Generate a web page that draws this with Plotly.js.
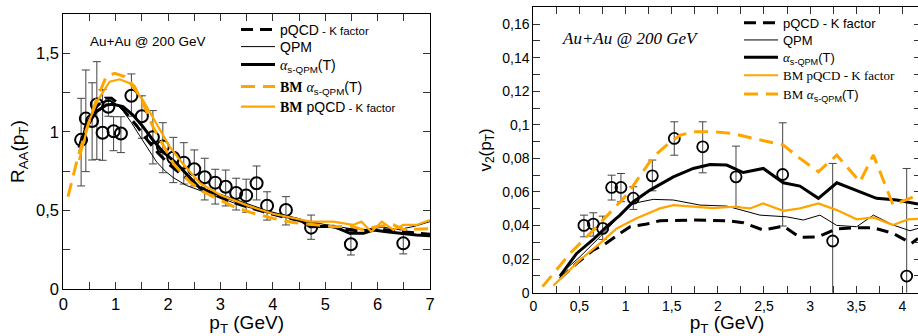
<!DOCTYPE html>
<html>
<head>
<meta charset="utf-8">
<script src="https://cdn.plot.ly/plotly-3.0.1.min.js"></script>
<style>
html,body{margin:0;padding:0;overflow:hidden;background:#fff;width:918px;height:336px;}
#chart{width:922px;height:336px;}
</style>
</head>
<body>
<div id="chart"></div>
<script>
// ---------- Left panel: R_AA(pT) ----------
const raaDataX   = [0.34, 0.43, 0.55, 0.64, 0.75, 0.86, 0.96, 1.10, 1.30, 1.50, 1.71, 1.90, 2.10, 2.30, 2.50, 2.70, 2.90, 3.10, 3.30, 3.49, 3.69, 3.89, 4.25, 4.73, 5.49, 6.49];
const raaDataY   = [0.95, 1.085, 1.07, 1.175, 0.995, 1.16, 1.005, 0.99, 1.23, 1.10, 0.966, 0.907, 0.836, 0.805, 0.763, 0.712, 0.678, 0.652, 0.612, 0.597, 0.674, 0.531, 0.504, 0.392, 0.286, 0.292];
const raaDataUp  = [1.214, 1.394, 1.313, 1.447, 1.27, 1.22, 1.097, 1.097, 1.369, 1.23, 1.136, 1.059, 0.966, 0.932, 0.886, 0.833, 0.763, 0.758, 0.706, 0.70, 0.784, 0.62, 0.589, 0.472, 0.377, 0.377];
const raaDataLo  = [0.657, 0.748, 0.822, 0.826, 0.82, 1.10, 0.881, 0.869, 1.10, 0.96, 0.797, 0.741, 0.678, 0.669, 0.657, 0.568, 0.542, 0.53, 0.504, 0.49, 0.568, 0.44, 0.409, 0.318, 0.218, 0.225];

const raaPqcdX = [0.30, 0.44, 0.63, 0.80, 0.92, 1.05, 1.20, 1.40, 1.60, 1.80, 2.00, 2.20, 2.50, 2.80, 3.10, 3.40, 3.80, 4.20, 4.60, 5.00, 5.40, 5.70, 6.00, 6.30, 6.60, 7.00];
const raaPqcdY = [0.90, 1.05, 1.16, 1.215, 1.215, 1.18, 1.12, 1.04, 0.95, 0.87, 0.80, 0.745, 0.67, 0.615, 0.57, 0.535, 0.495, 0.46, 0.43, 0.405, 0.38, 0.37, 0.385, 0.37, 0.36, 0.35];

const raaQpmX = [0.30, 0.44, 0.63, 0.80, 0.90, 1.00, 1.15, 1.30, 1.45, 1.60, 1.78, 1.95, 2.10, 2.35, 2.60, 2.90, 3.25, 3.60, 3.90, 4.30, 4.70, 5.10, 5.50, 5.80, 6.10, 6.40, 6.70, 7.00];
const raaQpmY = [0.88, 1.06, 1.17, 1.20, 1.20, 1.18, 1.13, 1.06, 0.98, 0.90, 0.81, 0.75, 0.71, 0.66, 0.63, 0.59, 0.55, 0.515, 0.49, 0.46, 0.43, 0.405, 0.385, 0.38, 0.395, 0.38, 0.40, 0.43];

const raaAlphaX = [0.31, 0.44, 0.63, 0.82, 0.95, 1.14, 1.33, 1.52, 1.71, 1.90, 2.16, 2.61, 3.25, 3.88, 4.52, 4.71, 5.16, 5.47, 5.73, 5.92, 6.17, 6.42, 6.74, 7.00];
const raaAlphaY = [0.907, 1.034, 1.129, 1.172, 1.176, 1.161, 1.108, 1.034, 0.949, 0.875, 0.80, 0.642, 0.568, 0.494, 0.441, 0.398, 0.40, 0.356, 0.356, 0.377, 0.366, 0.356, 0.345, 0.34];

const raaBmAlphaX = [0.09, 0.185, 0.28, 0.44, 0.63, 0.82, 0.98, 1.17, 1.36, 1.55, 1.71, 1.90, 2.10, 2.42, 2.67, 2.93, 3.25, 3.63, 4.01, 4.39, 4.77, 5.16, 5.50, 5.70, 6.00, 6.30, 6.50, 7.00];
const raaBmAlphaY = [0.589, 0.716, 0.843, 1.013, 1.203, 1.352, 1.373, 1.352, 1.288, 1.161, 1.034, 0.92, 0.80, 0.68, 0.621, 0.578, 0.525, 0.483, 0.451, 0.424, 0.409, 0.398, 0.40, 0.38, 0.40, 0.41, 0.38, 0.385];

const raaBmPqcdX = [0.30, 0.50, 0.66, 0.885, 1.076, 1.267, 1.52, 1.775, 2.03, 2.28, 2.61, 3.00, 3.50, 4.00, 4.40, 4.71, 5.15, 5.53, 5.69, 5.88, 6.08, 6.30, 6.49, 6.74, 7.00];
const raaBmPqcdY = [0.822, 1.076, 1.203, 1.32, 1.335, 1.31, 1.203, 1.055, 0.907, 0.80, 0.674, 0.60, 0.535, 0.48, 0.45, 0.43, 0.43, 0.409, 0.43, 0.366, 0.43, 0.377, 0.409, 0.409, 0.44];

// ---------- Right panel: v2(pT) ----------
const v2DataX  = [0.549, 0.650, 0.752, 0.849, 0.950, 1.084, 1.29, 1.528, 1.836, 2.197, 2.703, 3.245, 4.047];
const v2DataY  = [0.0401, 0.0409, 0.0383, 0.0627, 0.0627, 0.0563, 0.0696, 0.0919, 0.0869, 0.069, 0.0704, 0.0308, 0.0099];
const v2DataUp = [0.0462, 0.0476, 0.0456, 0.070, 0.071, 0.0631, 0.079, 0.1018, 0.1018, 0.0873, 0.1012, 0.077, 0.074];
const v2DataLo = [0.0333, 0.0337, 0.0317, 0.0552, 0.0542, 0.0496, 0.0607, 0.0819, 0.0714, 0.0512, 0.0397, -0.02, -0.02];

const v2PqcdX = [0.29, 0.47, 0.65, 0.76, 0.94, 1.05, 1.23, 1.373, 1.734, 2.096, 2.276, 2.493, 2.71, 2.89, 3.09, 3.29, 3.505, 3.686, 3.90, 4.10, 4.17];
const v2PqcdY = [0.0085, 0.0175, 0.0254, 0.0284, 0.0353, 0.0393, 0.0409, 0.0429, 0.0433, 0.0429, 0.0417, 0.0373, 0.0397, 0.0329, 0.0333, 0.0381, 0.0387, 0.0387, 0.0353, 0.0294, 0.0323];

const v2QpmX = [0.29, 0.506, 0.723, 0.94, 1.084, 1.30, 1.518, 1.807, 2.096, 2.457, 2.746, 2.927, 3.107, 3.288, 3.505, 3.686, 3.90, 4.083, 4.17];
const v2QpmY = [0.0110, 0.0214, 0.0333, 0.0460, 0.0532, 0.0556, 0.0552, 0.0522, 0.0516, 0.0462, 0.0452, 0.0433, 0.0462, 0.0401, 0.0393, 0.0462, 0.0403, 0.0369, 0.0383];

const v2AlphaX = [0.289, 0.47, 0.65, 0.795, 0.94, 1.084, 1.265, 1.518, 1.734, 1.915, 2.096, 2.276, 2.493, 2.71, 2.89, 3.09, 3.29, 3.54, 3.72, 3.94, 4.17];
const v2AlphaY = [0.0099, 0.0234, 0.0317, 0.0393, 0.0462, 0.0542, 0.0611, 0.069, 0.074, 0.0764, 0.076, 0.0716, 0.074, 0.0655, 0.0635, 0.0562, 0.0655, 0.0601, 0.0562, 0.0552, 0.0528];

const v2BmPqcdX = [0.217, 0.506, 0.723, 0.904, 1.12, 1.373, 1.518, 1.807, 1.95, 2.168, 2.35, 2.49, 2.71, 2.89, 3.09, 3.29, 3.505, 3.686, 3.90, 4.065, 4.17];
const v2BmPqcdY = [0.0042, 0.0195, 0.0294, 0.0383, 0.0443, 0.0502, 0.0522, 0.0512, 0.0504, 0.0512, 0.0502, 0.0532, 0.0488, 0.0502, 0.0532, 0.0492, 0.0437, 0.0448, 0.0403, 0.0437, 0.0440];

const v2BmAlphaX = [0.10, 0.398, 0.687, 1.012, 1.30, 1.445, 1.59, 1.734, 1.95, 2.168, 2.385, 2.566, 2.71, 2.89, 3.09, 3.29, 3.54, 3.686, 3.90, 4.12, 4.17];
const v2BmAlphaY = [0.0036, 0.0234, 0.0393, 0.0582, 0.081, 0.0879, 0.0938, 0.0958, 0.0958, 0.0948, 0.0919, 0.0899, 0.0879, 0.080, 0.072, 0.082, 0.066, 0.082, 0.0522, 0.0571, 0.055];

// ---------- styling ----------
const ORANGE = '#FFA500';
const SERIF = 'Liberation Serif';
const SANS = 'Liberation Sans';
const alphaTxt = "<span style='font-family:" + SERIF + ";font-style:italic'>α</span><sub>s-QPM</sub>(T)";
const bmBold = "<span style='font-family:" + SERIF + "'><b>BM</b></span> ";
const bmSerif = "<span style='font-family:" + SERIF + "'>BM</span> ";

function errs(y, up, lo) {
  return {
    type: 'data', symmetric: false,
    array: up.map((u, i) => u - y[i]),
    arrayminus: lo.map((l, i) => y[i] - l),
    color: '#444', thickness: 1, width: 4
  };
}
function line(x, y, xa, ya, name, color, width, dash, legend) {
  return {x: x, y: y, xaxis: xa, yaxis: ya, type: 'scatter', mode: 'lines', name: name,
          line: {color: color, width: width, dash: dash || 'solid'}, legend: legend, hoverinfo: 'skip'};
}
const dashBlack = '12px,7px';
const dashOrange = '14px,8px';
const kf = "pQCD<span style='font-size:11.5px'> - K factor</span>";

const traces = [
  {x: raaDataX, y: raaDataY, xaxis: 'x', yaxis: 'y', type: 'scatter', mode: 'markers', showlegend: false,
   marker: {symbol: 'circle-open', size: 12, color: '#000', line: {width: 2, color: '#000'}},
   error_y: errs(raaDataY, raaDataUp, raaDataLo)},
  line(raaPqcdX, raaPqcdY, 'x', 'y', kf, '#000', 3, dashBlack, 'legend'),
  line(raaQpmX, raaQpmY, 'x', 'y', 'QPM', '#000', 1, 'solid', 'legend2'),
  line(raaAlphaX, raaAlphaY, 'x', 'y', alphaTxt, '#000', 3, 'solid', 'legend3'),
  line(raaBmAlphaX, raaBmAlphaY, 'x', 'y', bmBold + alphaTxt, ORANGE, 3, dashOrange, 'legend4'),
  line(raaBmPqcdX, raaBmPqcdY, 'x', 'y', bmBold + kf, ORANGE, 2.2, 'solid', 'legend5'),

  {x: v2DataX, y: v2DataY, xaxis: 'x2', yaxis: 'y2', type: 'scatter', mode: 'markers', showlegend: false,
   marker: {symbol: 'circle-open', size: 11, color: '#000', line: {width: 1.8, color: '#000'}},
   error_y: errs(v2DataY, v2DataUp, v2DataLo)},
  line(v2PqcdX, v2PqcdY, 'x2', 'y2', 'pQCD - K factor', '#000', 3, dashBlack, 'legend6'),
  line(v2QpmX, v2QpmY, 'x2', 'y2', 'QPM', '#000', 1, 'solid', 'legend7'),
  line(v2AlphaX, v2AlphaY, 'x2', 'y2', alphaTxt, '#000', 3, 'solid', 'legend8'),
  line(v2BmPqcdX, v2BmPqcdY, 'x2', 'y2', "<span style='font-family:" + SERIF + "'>BM pQCD - K factor</span>", ORANGE, 2.2, 'solid', 'legend9'),
  line(v2BmAlphaX, v2BmAlphaY, 'x2', 'y2', bmSerif + alphaTxt, ORANGE, 3, dashOrange, 'legend10')
];

const W = 922, H = 336;
function axisCommon(extra) {
  return Object.assign({
    showline: true, linecolor: '#000', linewidth: 1, mirror: 'ticks',
    ticks: 'inside', ticklen: 7, tickwidth: 1, tickcolor: '#333',
    showgrid: false, zeroline: false, fixedrange: true,
    tickfont: {family: SANS, size: 16.5, color: '#000'}
  }, extra);
}

const layout = {
  width: W, height: H,
  margin: {l: 0, r: 0, t: 0, b: 0},
  paper_bgcolor: '#fff', plot_bgcolor: '#fff',
  separators: ',.',
  font: {family: SANS, color: '#000'},
  xaxis: axisCommon({domain: [63.3 / W, 430 / W], range: [0, 7], anchor: 'y', dtick: 1, tick0: 0,
    minor: {dtick: 0.5, ticks: 'inside', ticklen: 7, tickcolor: '#333', showgrid: false},
    title: {text: 'p<sub>T</sub> (GeV)', font: {family: SANS, size: 19}, standoff: 6}}),
  yaxis: axisCommon({domain: [(H - 289.3) / H, (H - 14) / H], range: [0, 1.75], anchor: 'x', dtick: 0.5, tick0: 0,
    minor: {dtick: 0.25, ticks: 'inside', ticklen: 7, tickcolor: '#333', showgrid: false},
    title: {text: 'R<sub>AA</sub>(p<sub>T</sub>)', font: {family: SANS, size: 19}, standoff: 6}}),
  xaxis2: axisCommon({domain: [533.3 / W, 920.8 / W], range: [0, 4.2], anchor: 'y2', dtick: 0.5, tick0: 0,
    tickfont: {family: SANS, size: 14, color: '#000'},
    minor: {dtick: 0.25, ticks: 'inside', ticklen: 7, tickcolor: '#333', showgrid: false},
    title: {text: 'p<sub>T</sub> (GeV)', font: {family: SANS, size: 19}, standoff: 5}}),
  yaxis2: axisCommon({domain: [(H - 292.7) / H, (H - 7.3) / H], range: [0, 0.17], anchor: 'x2', dtick: 0.02, tick0: 0,
    tickfont: {family: SANS, size: 14, color: '#000'},
    minor: {dtick: 0.01, ticks: 'inside', ticklen: 7, tickcolor: '#333', showgrid: false},
    title: {text: 'v<sub>2</sub>(p<sub>T</sub>)', font: {family: SANS, size: 17}, standoff: 6}}),
  annotations: [
    {xref: 'paper', yref: 'paper', x: 88 / W, y: 1 - 41 / H, xanchor: 'left', yanchor: 'middle', showarrow: false,
     text: 'Au+Au @ 200 GeV', font: {family: SANS, size: 13.5, color: '#000'}},
    {xref: 'paper', yref: 'paper', x: 560 / W, y: 1 - 38 / H, xanchor: 'left', yanchor: 'middle', showarrow: false,
     text: '<i>Au+Au @ 200 GeV</i>', font: {family: SERIF, size: 17, color: '#000'}}
  ]
};

// one legend box per entry so each row sits where the reference puts it
const leftRows = [30, 47, 65, 87, 107];
const rightRows = [22.7, 40, 57.3, 75.3, 94];
function legendBox(xpx, ypx, size) {
  return {x: xpx / W, y: 1 - ypx / H, xanchor: 'left', yanchor: 'middle', bgcolor: 'rgba(0,0,0,0)',
          borderwidth: 0, font: {family: SANS, size: size, color: '#000'}, itemwidth: 34};
}
leftRows.forEach((r, i) => { layout[i === 0 ? 'legend' : 'legend' + (i + 1)] = legendBox(236, r, 14); });
rightRows.forEach((r, i) => { layout['legend' + (i + 6)] = legendBox(739, r, 13); });

Plotly.newPlot('chart', traces, layout, {displayModeBar: false, staticPlot: true});
</script>
</body>
</html>
